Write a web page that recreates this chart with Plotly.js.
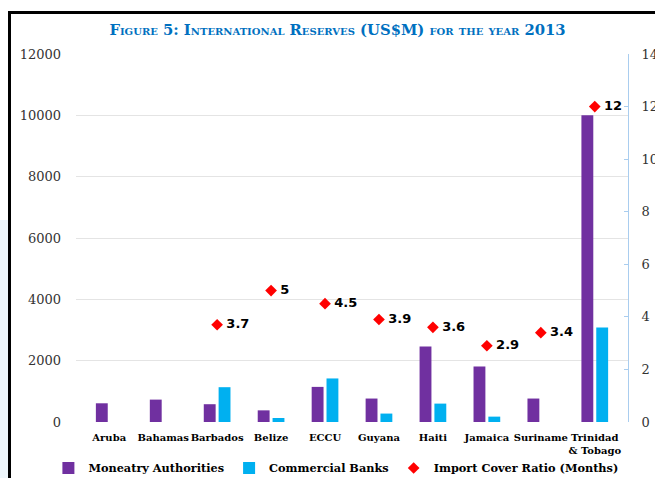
<!DOCTYPE html>
<html>
<head>
<meta charset="utf-8">
<script src="https://cdn.plot.ly/plotly-3.0.1.min.js"></script>
<style>
  body { margin: 0; background: #fff; width: 655px; height: 478px; overflow: hidden; position: relative; }
  #strip { position: absolute; left: 0; top: 220px; width: 8px; height: 258px; background: #eef6fb; }
  #frame { position: absolute; left: 8px; top: 11px; width: 660px; height: 480px; border-left: 3px solid #000; border-top: 3px solid #000; }
  #chart { position: absolute; left: 11px; top: 14px; width: 644px; height: 464px; }
</style>
</head>
<body>
<div id="strip"></div>
<div id="frame"></div>
<div id="chart"></div>
<script>
// Figure 5: international reserves 2013

var countries = ['Aruba', 'Bahamas', 'Barbados', 'Belize', 'ECCU', 'Guyana', 'Haiti', 'Jamaica', 'Suriname', 'Trinidad<br>& Tobago'];
var monetaryAuth = [610, 730, 580, 380, 1145, 765, 2465, 1810, 765, 10000];
var commercialBanks = [null, null, 1135, 130, 1420, 275, 600, 175, null, 3085];
var importCover = [null, null, 3.7, 5, 4.5, 3.9, 3.6, 2.9, 3.4, 12];

var serif = 'DejaVu Serif, serif';

var barMon = {
    x: countries,
    y: monetaryAuth,
    type: 'bar',
    name: 'Moneatry Authorities',
    marker: { color: '#7030a0' },
    hoverinfo: 'y'
};

var barCom = {
    x: countries,
    y: commercialBanks,
    type: 'bar',
    name: 'Commercial Banks',
    marker: { color: '#00b0f0' },
    hoverinfo: 'y'
};

var ratio = {
    x: countries,
    y: importCover,
    yaxis: 'y2',
    type: 'scatter',
    mode: 'markers+text',
    name: 'Import Cover Ratio (Months)',
    text: importCover.map(function (v) { return v === null ? '' : '\u2009' + v; }),
    textposition: 'middle right',
    textfont: { family: 'DejaVu Sans, sans-serif', size: 13, color: '#000', weight: 'bold' },
    marker: { symbol: 'diamond', color: '#ff0000', size: 9 },
    cliponaxis: false
};

var layout = {
    width: 644,
    height: 464,
    margin: { l: 65, r: 27, t: 40, b: 56, autoexpand: false },
    paper_bgcolor: 'rgba(0,0,0,0)',
    plot_bgcolor: '#fff',
    title: {
        text: 'Figure 5: International Reserves (US$M) for the year 2013',
        font: { family: serif, size: 14.8, color: '#0070c0', weight: 'bold', variant: 'small-caps' },
        x: 0.507,
        xanchor: 'center',
        yref: 'container',
        y: 0.965,
        yanchor: 'middle'
    },
    barmode: 'group',
    bargap: 0.45,
    bargroupgap: 0.2,
    showlegend: true,
    legend: {
        orientation: 'h',
        x: -0.05,
        xanchor: 'left',
        y: -0.125,
        yanchor: 'middle',
        font: { family: serif, size: 11.3, color: '#000', weight: 'bold' },
        itemwidth: 30,
        tracegroupgap: 0
    },
    xaxis: {
        type: 'category',
        showgrid: false,
        showline: false,
        zeroline: false,
        ticks: '',
        tickangle: 0,
        automargin: false,
        ticklabelstandoff: 8,
        tickfont: { family: serif, size: 10, color: '#000', weight: 'bold' }
    },
    yaxis: {
        range: [0, 12000],
        dtick: 2000,
        tickformat: 'd',
        showline: false,
        zeroline: false,
        automargin: false,
        gridcolor: '#e4e4e4',
        tickfont: { family: serif, size: 13, color: '#333' },
        ticklabelstandoff: 14
    },
    yaxis2: {
        overlaying: 'y',
        side: 'right',
        range: [0, 14],
        dtick: 2,
        showgrid: false,
        zeroline: false,
        automargin: false,
        showline: true,
        linecolor: '#a9cdef',
        ticks: 'inside',
        ticklen: 4,
        tickcolor: '#a9cdef',
        tickfont: { family: serif, size: 13, color: '#333' },
        ticklabelstandoff: 10
    }
};

Plotly.newPlot('chart', [barMon, barCom, ratio], layout, { displayModeBar: false });
</script>
</body>
</html>
